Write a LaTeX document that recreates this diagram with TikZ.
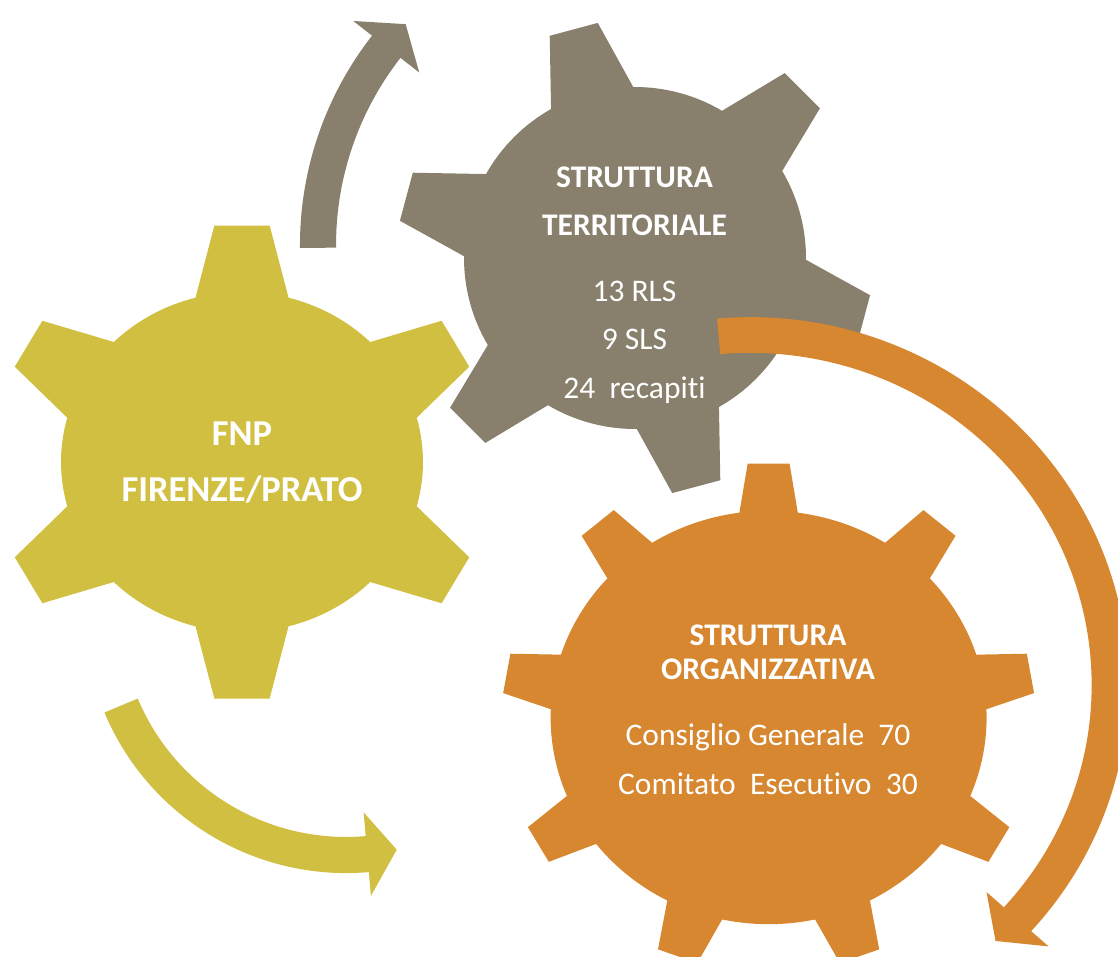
\documentclass[tikz,border=0pt]{standalone}
\usepackage{fontspec}
\setmainfont{Carlito}[Ligatures=NoCommon]
\definecolor{gyellow}{RGB}{209,191,66}
\definecolor{ggray}{RGB}{136,127,108}
\definecolor{gorange}{RGB}{214,135,48}
% gear parameters: outer Rx, Ry, body rx, ry, tip half angle, base half angle
\newcommand{\geardef}[6]{\def\gRx{#1}\def\gRy{#2}\def\grx{#3}\def\gry{#4}\def\ga{#5}\def\gb{#6}}
% teeth count, first tooth angle, colour
\newcommand{\gearfill}[3]{%
  \pgfmathtruncatemacro{\gnm}{#1-1}%
  \pgfmathsetmacro{\gstep}{360/#1}%
  \def\gst{#2}%
  \fill[#3] ({\grx*cos(\gst-\gb)},{\gry*sin(\gst-\gb)})
   \foreach \k in {0,...,\gnm}{
    -- ({\gRx*cos(\gst+\k*\gstep-\ga)},{\gRy*sin(\gst+\k*\gstep-\ga)})
    -- ({\gRx*cos(\gst+\k*\gstep+\ga)},{\gRy*sin(\gst+\k*\gstep+\ga)})
    -- ({\grx*cos(\gst+\k*\gstep+\gb)},{\gry*sin(\gst+\k*\gstep+\gb)})
    arc[start angle={\gst+\k*\gstep+\gb}, end angle={\gst+(\k+1)*\gstep-\gb}, x radius=\grx, y radius=\gry]
   } -- cycle;}
% circular arrow: rx, ry, t1 (tail), t2 (head base), t3 (tip), half width, head half width, colour
\newcommand{\curvarrow}[8]{%
  \fill[#8] ({(1+#6)*#1*cos(#3)},{(1+#6)*#2*sin(#3)})
   arc[start angle=#3, end angle=#4, x radius={(1+#6)*#1}, y radius={(1+#6)*#2}]
   -- ({(1+#7)*#1*cos(#4)},{(1+#7)*#2*sin(#4)})
   -- ({#1*cos(#5)},{#2*sin(#5)})
   -- ({(1-#7)*#1*cos(#4)},{(1-#7)*#2*sin(#4)})
   -- ({(1-#6)*#1*cos(#4)},{(1-#6)*#2*sin(#4)})
   arc[start angle=#4, end angle=#3, x radius={(1-#6)*#1}, y radius={(1-#6)*#2}]
   -- cycle;}
\tikzset{
  bigtitle/.style={text=white, font=\bfseries\fontsize{36.5}{40}\selectfont, anchor=base, inner sep=0pt},
  title/.style={text=white, font=\bfseries\fontsize{31.5}{36}\selectfont, anchor=base, inner sep=0pt},
  plain/.style={text=white, font=\fontsize{31.5}{36}\selectfont, anchor=base, inner sep=0pt}
}
\begin{document}
\begin{tikzpicture}[x=1pt,y=-1pt]
\useasboundingbox (0,0) rectangle (1118,956);
% gears
\begin{scope}[shift={(242,462)}]
  \geardef{248}{238}{181}{170}{6.4}{14.9}
  \gearfill{6}{30}{gyellow}
\end{scope}
\begin{scope}[shift={(635,258)}]
  \geardef{238}{238}{171}{171}{6.0}{14.4}
  \gearfill{6}{15}{ggray}
\end{scope}
\begin{scope}[shift={(768.6,717.5)}]
  \geardef{266.7}{254.8}{218}{206.7}{4.5}{7.7}
  \gearfill{9}{30}{gorange}
\end{scope}
% circular arrows
\begin{scope}[shift={(640,245)}]
  \curvarrow{322}{322}{179.5}{218}{223.3}{0.056}{0.13}{ggray}
\end{scope}
\begin{scope}[shift={(346,611)}]
  \curvarrow{244}{244}{157.2}{85}{78}{0.074}{0.172}{gyellow}
\end{scope}
\begin{scope}[shift={(750,685)}]
  \curvarrow{360}{350}{265}{402}{407}{0.051}{0.116}{gorange}
\end{scope}
% texts
\node[bigtitle] (fnp) at (242,445) {FNP};
\node[bigtitle] (fip) at (242,501) {FIRENZE/PRATO};
\node[title] (st1) at (634.5,187) {STRUTTURA};
\node[title] (ter) at (634.5,235) {TERRITORIALE};
\node[plain] (rls) at (634.5,301.5) {13 RLS};
\node[plain] (sls) at (634.5,349) {9 SLS};
\node[plain] (rec) at (634.5,398) {24\ \ recapiti};
\node[title] (st2) at (768,645) {STRUTTURA};
\node[title] (org) at (768,679.5) {ORGANIZZATIVA};
\node[plain] (cg) at (768,745) {Consiglio Generale\ \ 70};
\node[plain] (ce) at (768,794) {Comitato\ \ Esecutivo\ \ 30};
\end{tikzpicture}
\end{document}
